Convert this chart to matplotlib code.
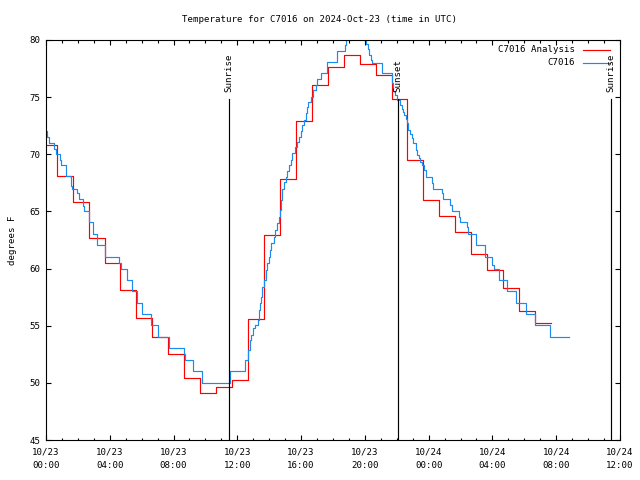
"""Temperature for C7016 on 2024-Oct-23: analysis vs observed, step lines."""

import matplotlib
matplotlib.use("Agg")
import matplotlib.pyplot as plt
import matplotlib.dates as mdates
import pandas as pd

BASE = pd.Timestamp("2024-10-23 00:00")

# hourly analysis (hours after 10/23 00:00 UTC, deg F)
analysis_hr = [-0.33, 0.67, 1.67, 2.67, 3.67, 4.67, 5.67, 6.67, 7.67, 8.67,
               9.67, 10.67, 11.67, 12.67, 13.67, 14.67, 15.67, 16.67, 17.67,
               18.67, 19.67, 20.67, 21.67, 22.67, 23.67, 24.67, 25.67, 26.67,
               27.67, 28.67, 29.67, 30.67, 31.67]
analysis_f = [70.8, 68.1, 65.8, 62.65, 60.5, 58.1, 55.7, 54.0, 52.5, 50.4,
              49.1, 49.6, 50.25, 55.6, 62.9, 67.8, 72.9, 76.1, 77.6,
              78.65, 77.9, 76.9, 74.8, 69.5, 66.0, 64.6, 63.2, 61.3,
              59.85, 58.3, 56.3, 55.2, 55.2]

# station observations
obs_hr = [0.00, 0.08, 0.19, 0.50, 0.63, 0.88, 0.94, 1.24, 1.55, 1.61,
          1.96, 2.05, 2.30, 2.40, 2.70, 2.93, 3.22, 3.72, 4.60, 4.69,
          5.06, 5.41, 5.73, 6.04, 6.57, 7.05, 7.74, 8.66, 8.70, 9.24,
          9.79, 11.51, 12.45, 12.67, 12.78, 12.88, 12.99, 13.09, 13.30, 13.34,
          13.41, 13.51, 13.57, 13.66, 13.78, 13.86, 13.97, 14.07, 14.13, 14.28,
          14.39, 14.49, 14.60, 14.66, 14.72, 14.82, 14.93, 15.04, 15.14, 15.24,
          15.35, 15.45, 15.59, 15.72, 15.87, 15.98, 16.08, 16.19, 16.29, 16.36,
          16.46, 16.61, 16.77, 16.92, 17.02, 17.23, 17.61, 18.24, 18.76, 18.84,
          18.91, 20.06, 20.18, 20.28, 20.37, 20.45, 21.06, 21.69, 21.79, 21.89,
          22.00, 22.21, 22.32, 22.42, 22.46, 22.57, 22.67, 22.73, 22.84, 22.94,
          23.04, 23.19, 23.29, 23.40, 23.46, 23.57, 23.71, 23.82, 24.23, 24.30,
          24.86, 24.92, 25.35, 25.44, 25.91, 25.97, 26.39, 26.44, 26.96, 27.54,
          28.00, 28.07, 28.42, 28.90, 29.49, 30.09, 30.68, 31.62, 32.81]
obs_f = [72.0, 71.5, 71.0, 70.5, 70.0, 69.5, 69.05, 68.1, 67.2, 67.0,
         66.6, 66.1, 65.5, 65.0, 64.05, 63.0, 62.05, 61.0, 60.45, 60.0,
         59.0, 58.05, 56.95, 56.0, 55.05, 54.05, 53.05, 52.5, 52.0, 51.0,
         50.0, 51.0, 52.0, 52.9, 53.75, 54.2, 54.8, 55.1, 55.5, 56.4,
         57.0, 57.5, 58.4, 59.0, 59.9, 60.5, 61.0, 61.6, 62.2, 62.8,
         63.4, 64.0, 64.5, 65.1, 66.0, 67.0, 67.6, 68.0, 68.5, 69.05,
         69.5, 70.1, 70.6, 71.1, 71.5, 72.05, 72.55, 73.0, 73.6, 74.1,
         74.6, 75.05, 75.6, 76.1, 76.6, 77.1, 78.05, 79.05, 79.55, 80.0,
         80.8, 79.65, 79.2, 78.7, 78.25, 77.95, 77.1, 76.2, 75.5, 75.2,
         74.75, 74.3, 74.0, 73.7, 73.4, 73.05, 72.7, 72.1, 71.8, 71.4,
         70.95, 70.4, 69.9, 69.65, 69.35, 69.05, 68.6, 68.05, 67.45, 67.0,
         66.6, 66.05, 65.6, 65.05, 64.5, 64.05, 63.6, 63.0, 62.05, 61.0,
         60.3, 60.0, 59.0, 58.05, 56.95, 56.05, 55.05, 54.0, 54.0]

sun_hr = [11.45, 22.10, 35.45]
sun_lbl = ["Sunrise", "Sunset", "Sunrise"]

FONT = "DejaVu Sans Mono"
FS = 6.6
RED = "#ff0000"
BLUE = "#1a8cf0"
LW = 0.85


def hrs(h):
    return BASE + pd.to_timedelta(h, unit="h")


fig = plt.figure(figsize=(6.4, 4.8), dpi=100)
ax = fig.add_axes([46 / 640, 40 / 480, 574 / 640, 400 / 480])

ax.step(hrs(analysis_hr), analysis_f, where="post", color=RED, lw=LW)
ax.step(hrs(obs_hr), obs_f, where="post", color=BLUE, lw=LW)

for h, lbl in zip(sun_hr, sun_lbl):
    t = hrs(h)
    ax.plot([t, t], [45, 74.8], color="black", lw=LW)
    ax.text(t, 75.45, lbl, rotation=90, ha="center", va="bottom",
            family=FONT, fontsize=FS)

ax.set_xlim(BASE, BASE + pd.Timedelta(hours=36))
ax.set_ylim(45, 80)
ax.set_yticks(range(45, 81, 5))
ax.xaxis.set_major_locator(mdates.HourLocator(byhour=[0, 4, 8, 12, 16, 20]))
ax.xaxis.set_minor_locator(mdates.HourLocator())
ax.xaxis.set_major_formatter(mdates.DateFormatter("%m/%d\n%H:%M"))

ax.tick_params(which="both", direction="in", top=True, right=True,
               width=0.8, labelsize=FS)
ax.tick_params(which="major", length=3.3)
ax.tick_params(which="minor", length=1.8)
ax.tick_params(axis="x", pad=5.5)
ax.tick_params(axis="y", pad=4)
for lab in ax.get_xticklabels():
    lab.set_family(FONT)
    lab.set_linespacing(1.65)
for lab in ax.get_yticklabels():
    lab.set_family(FONT)
for sp in ax.spines.values():
    sp.set_linewidth(0.8)

ax.set_ylabel("degrees F", family=FONT, fontsize=FS, labelpad=9)

# key, gnuplot style: right-justified text, sample line on the right
for row, (name, col) in enumerate([("C7016 Analysis", RED), ("C7016", BLUE)]):
    yy = 0.975 - row * 0.0325
    ax.text(0.9216, yy, name, transform=ax.transAxes, ha="right",
            va="center", family=FONT, fontsize=FS)
    ax.plot([0.9355, 0.9826], [yy, yy], transform=ax.transAxes,
            color=col, lw=LW)

fig.text(0.5, 1 - 20 / 480, "Temperature for C7016 on 2024-Oct-23 (time in UTC)",
         ha="center", va="center", family=FONT, fontsize=FS)

fig.savefig("out.png", dpi=100)
